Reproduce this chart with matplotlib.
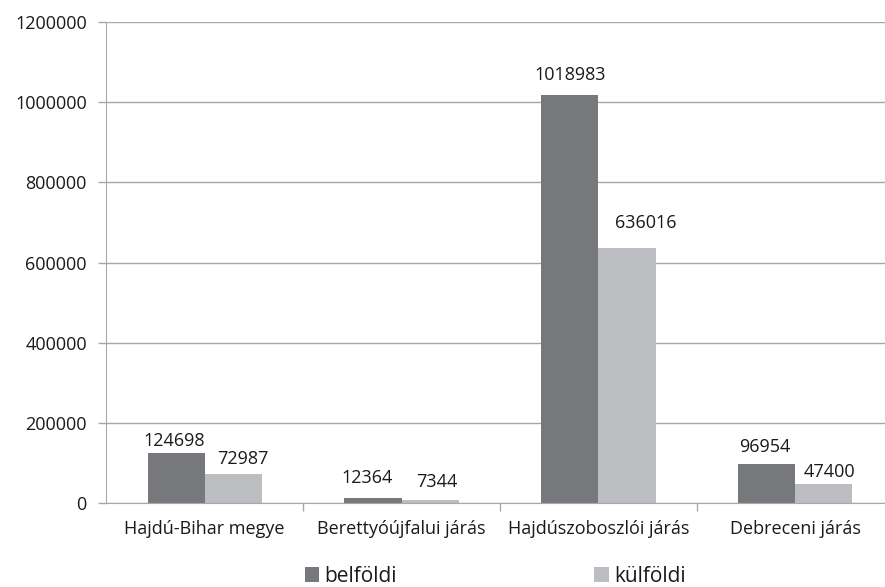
import matplotlib

matplotlib.use("Agg")
import numpy as np
from matplotlib import pyplot as plt

categories = ["Hajdú-Bihar megye", "Berettyóújfalui járás", "Hajdúszoboszlói járás", "Debreceni járás"]
belfoldi = [124698, 12364, 1018983, 96954]
kulfoldi = [72987, 7344, 636016, 47400]
series_names = ["belföldi", "külföldi"]
y_ticks = [0, 200000, 400000, 600000, 800000, 1000000, 1200000]

# hand-placed data label nudges (pixels), as in the source chart
belfoldi_nudge = [(-2, 3), (-6, 11), (0, 11), (-2, 8)]
kulfoldi_nudge = [(10, 6), (7, 9), (19, 16), (5, 3)]

dark = "#77787b"
light = "#bcbdc0"
text_color = "#1a1a1a"
grid_color = "#a8a8a8"

plt.rcParams["font.family"] = ["Open Sans", "DejaVu Sans"]

fig = plt.figure(figsize=(8.85, 5.87), dpi=100)
fig.patch.set_facecolor("white")
ax = fig.add_axes([0.12, 0.143, 0.89, 0.8195])

x = np.arange(len(categories))
width = 0.29
bars_a = ax.bar(x - width / 2, belfoldi, width, color=dark, zorder=2, label=series_names[0])
bars_b = ax.bar(x + width / 2, kulfoldi, width, color=light, zorder=2, label=series_names[1])

for bars, vals, nudges in ((bars_a, belfoldi, belfoldi_nudge), (bars_b, kulfoldi, kulfoldi_nudge)):
    for b, v, (dx, dy) in zip(bars, vals, nudges):
        ax.annotate(str(v), (b.get_x() + b.get_width() / 2, v), xytext=(dx, dy),
                    textcoords="offset pixels", ha="center", va="bottom",
                    fontsize=13, color=text_color)

ax.set_xlim(-0.5, len(categories) - 0.5)
ax.set_ylim(0, 1200000)
ax.set_yticks(y_ticks)
ax.set_yticklabels([str(t) for t in y_ticks], fontsize=13, color=text_color)
ax.set_xticks(x)
ax.set_xticklabels(categories, fontsize=13, color=text_color)
ax.set_xticks(np.arange(0.5, len(categories) - 0.5, 1.0), minor=True)
ax.tick_params(axis="x", which="major", length=0, pad=12)
ax.tick_params(axis="x", which="minor", length=6, color=grid_color, width=1)
ax.tick_params(axis="y", length=6, color=grid_color, width=1, pad=8)

ax.grid(axis="y", color=grid_color, linewidth=1, zorder=0)
for side in ("top", "right"):
    ax.spines[side].set_visible(False)
ax.spines["left"].set_color(grid_color)
ax.spines["bottom"].set_color(grid_color)

fig.legend(loc="lower center", bbox_to_anchor=(0.5595, -0.032), ncol=2, frameon=False,
           fontsize=15, handlelength=0.7, handleheight=0.7, handletextpad=0.25,
           columnspacing=9.45, labelcolor=text_color)

fig.savefig("out.png", dpi=100)
